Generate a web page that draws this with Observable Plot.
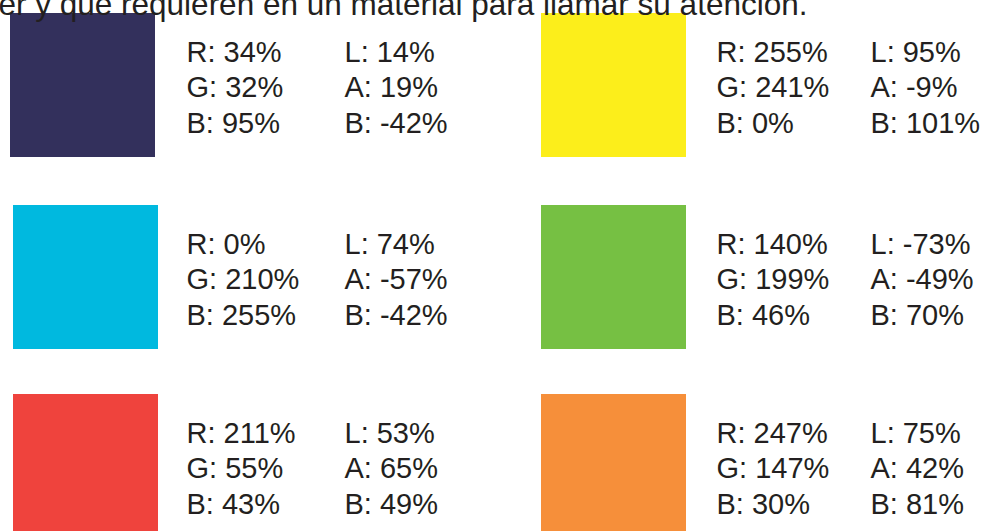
<!DOCTYPE html>
<html>
<head>
<meta charset="utf-8">
<script src="https://cdn.jsdelivr.net/npm/d3@7"></script>
<script src="https://cdn.jsdelivr.net/npm/@observablehq/plot@0.6"></script>
<style>
  html, body { margin: 0; padding: 0; background: #fff; overflow: hidden; }
</style>
</head>
<body>
<div id="chart"></div>
<script>
// ---- data ----
const heading = "er y que requieren en un material para llamar su atención.";
const swatchColors = ["#33305C", "#FCEE1B", "#00B9DF", "#76C043", "#EF433D", "#F68F3A"];
const rgbValues = [[34, 32, 95], [255, 241, 0], [0, 210, 255], [140, 199, 46], [211, 55, 43], [247, 147, 30]];
const labValues = [[14, 19, -42], [95, -9, 101], [74, -57, -42], [-73, -49, 70], [53, 65, 49], [75, 42, 81]];
const rgbLabels = ["R", "G", "B"];
const labLabels = ["L", "A", "B"];
const gridColumn = [0, 1, 0, 1, 0, 1];
const gridRow = [0, 0, 1, 1, 2, 2];

// ---- layout ----
const W = 982, H = 531;
const colLeft = [[10, 13, 13], [541, 541, 541]]; // [column][row] swatch left edge
const rowTop = [13, 205, 394];
const swW = 145, swH = 144;
const rgbTextX = [186, 716];
const labTextX = [344, 870];
const baselineOffset = [48, 83.5, 119];

const swatches = swatchColors.map((c, i) => ({
  color: c,
  x1: colLeft[gridColumn[i]][gridRow[i]],
  x2: colLeft[gridColumn[i]][gridRow[i]] + swW,
  y1: rowTop[gridRow[i]],
  y2: Math.min(rowTop[gridRow[i]] + swH, H)
}));

const texts = [];
swatchColors.forEach((c, i) => {
  for (let k = 0; k < 3; k++) {
    const y = rowTop[gridRow[i]] + baselineOffset[k];
    texts.push({x: rgbTextX[gridColumn[i]], y, t: `${rgbLabels[k]}: ${rgbValues[i][k]}%`});
    texts.push({x: labTextX[gridColumn[i]], y, t: `${labLabels[k]}: ${labValues[i][k]}%`});
  }
});

const chart = Plot.plot({
  width: W,
  height: H,
  margin: 0,
  x: {type: "linear", domain: [0, W], range: [0, W], axis: null},
  y: {type: "linear", domain: [0, H], range: [0, H], axis: null},
  style: {fontFamily: "'Liberation Sans', Arial, Helvetica, sans-serif", background: "#fff"},
  marks: [
    Plot.rect(swatches, {x1: "x1", x2: "x2", y1: "y1", y2: "y2", fill: "color"}),
    Plot.text([heading], {x: [-2], y: [14], text: d => d, textAnchor: "start", lineAnchor: "bottom",
      fontSize: 31.5, fill: "#231F20"}),
    Plot.text(texts, {x: "x", y: "y", text: "t", textAnchor: "start", lineAnchor: "bottom",
      fontSize: 29, fill: "#231F20"})
  ]
});
document.getElementById("chart").appendChild(chart);
</script>
</body>
</html>
